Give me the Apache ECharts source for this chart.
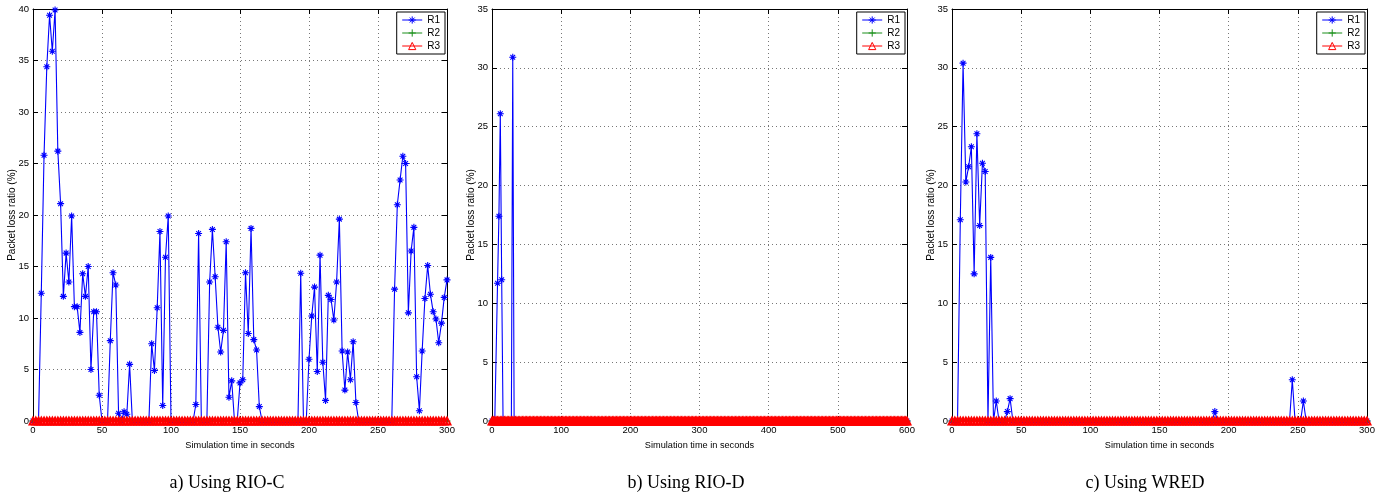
<!DOCTYPE html>
<html>
<head>
<meta charset="utf-8">
<script src="https://cdn.jsdelivr.net/npm/echarts@6/dist/echarts.min.js"></script>
<style>
html,body{margin:0;padding:0;background:#fff;}
#chart{width:1390px;height:493px;}
</style>
</head>
<body>
<div id="chart"></div>
<script>
// ---------- data (sampling every 2 s) ----------
const sampleStep = 2;
const xTicksA = [0, 50, 100, 150, 200, 250, 300];
const xTicksB = [0, 100, 200, 300, 400, 500, 600];
const xTicksC = [0, 50, 100, 150, 200, 250, 300];

// a) RIO-C, t = 0..300 (151 samples)
const r1A = [
  0,0,0,12.4,25.8,34.4,39.4,35.9,39.9,26.2,
  21.1,12.1,16.3,13.5,19.9,11.1,11.1,8.6,14.3,12.1,
  15.0,5.0,10.6,10.6,2.5,0,0,0,7.8,14.4,
  13.2,0.75,0,0.9,0.65,5.5,0,0,0,0,
  0,0,0,7.5,4.9,11.0,18.4,1.5,15.9,19.9,
  0,0,0,0,0,0,0,0,0,1.6,
  18.2,0,0,0,13.5,18.6,14.0,9.1,6.7,8.8,
  17.4,2.3,3.9,0,0,3.7,4.0,14.4,8.5,18.7,
  7.9,6.9,1.4,0,0,0,0,0,0,0,
  0,0,0,0,0,0,0,14.35,0,0,
  6.0,10.2,13.0,4.8,16.1,5.7,2.0,12.2,11.8,9.8,
  13.5,19.6,6.8,3.0,6.7,4.0,7.7,1.8,0,0,
  0,0,0,0,0,0,0,0,0,0,
  0,12.8,21.0,23.4,25.7,25.0,10.5,16.5,18.8,4.3,
  1.0,6.8,11.9,15.1,12.3,10.6,9.9,7.6,9.5,12.0,
  13.7
];
const r2A = [
  0,0,0,0,0,0,0,0,0,0, 0,0,0,0,0,0,0,0,0,0, 0,0,0,0,0,0,0,0,0,0,
  0,0,0,0,0,0,0,0,0,0, 0,0,0,0,0,0,0,0,0,0, 0,0,0,0,0,0,0,0,0,0,
  0,0,0,0,0,0,0,0,0,0, 0,0,0,0,0,0,0,0,0,0, 0,0,0,0,0,0,0,0,0,0,
  0,0,0,0,0,0,0,0,0,0, 0,0,0,0,0,0,0,0,0,0, 0,0,0,0,0,0,0,0,0,0,
  0,0,0,0,0,0,0,0,0,0, 0,0,0,0,0,0,0,0,0,0, 0,0,0,0,0,0,0,0,0,0,
  0
];
const r3A = [
  0,0,0,0,0,0,0,0,0,0, 0,0,0,0,0,0,0,0,0,0, 0,0,0,0,0,0,0,0,0,0,
  0,0,0,0,0,0,0,0,0,0, 0,0,0,0,0,0,0,0,0,0, 0,0,0,0,0,0,0,0,0,0,
  0,0,0,0,0,0,0,0,0,0, 0,0,0,0,0,0,0,0,0,0, 0,0,0,0,0,0,0,0,0,0,
  0,0,0,0,0,0,0,0,0,0, 0,0,0,0,0,0,0,0,0,0, 0,0,0,0,0,0,0,0,0,0,
  0,0,0,0,0,0,0,0,0,0, 0,0,0,0,0,0,0,0,0,0, 0,0,0,0,0,0,0,0,0,0,
  0
];

// b) RIO-D, t = 0..600 (301 samples)
const r1B = [
  0,0,0,0,11.7,17.4,26.1,12.0,0,0, 0,0,0,0,0,30.9,0,0,0,0, 0,0,0,0,0,0,0,0,0,0,
  0,0,0,0,0,0,0,0,0,0, 0,0,0,0,0,0,0,0,0,0, 0,0,0,0,0,0,0,0,0,0,
  0,0,0,0,0,0,0,0,0,0, 0,0,0,0,0,0,0,0,0,0, 0,0,0,0,0,0,0,0,0,0,
  0,0,0,0,0,0,0,0,0,0, 0,0,0,0,0,0,0,0,0,0, 0,0,0,0,0,0,0,0,0,0,
  0,0,0,0,0,0,0,0,0,0, 0,0,0,0,0,0,0,0,0,0, 0,0,0,0,0,0,0,0,0,0,
  0,0,0,0,0,0,0,0,0,0, 0,0,0,0,0,0,0,0,0,0, 0,0,0,0,0,0,0,0,0,0,
  0,0,0,0,0,0,0,0,0,0, 0,0,0,0,0,0,0,0,0,0, 0,0,0,0,0,0,0,0,0,0,
  0,0,0,0,0,0,0,0,0,0, 0,0,0,0,0,0,0,0,0,0, 0,0,0,0,0,0,0,0,0,0,
  0,0,0,0,0,0,0,0,0,0, 0,0,0,0,0,0,0,0,0,0, 0,0,0,0,0,0,0,0,0,0,
  0,0,0,0,0,0,0,0,0,0, 0,0,0,0,0,0,0,0,0,0, 0,0,0,0,0,0,0,0,0,0,
  0
];
const r2B = [
  0,0,0,0,0,0,0,0,0,0, 0,0,0,0,0,0,0,0,0,0, 0,0,0,0,0,0,0,0,0,0,
  0,0,0,0,0,0,0,0,0,0, 0,0,0,0,0,0,0,0,0,0, 0,0,0,0,0,0,0,0,0,0,
  0,0,0,0,0,0,0,0,0,0, 0,0,0,0,0,0,0,0,0,0, 0,0,0,0,0,0,0,0,0,0,
  0,0,0,0,0,0,0,0,0,0, 0,0,0,0,0,0,0,0,0,0, 0,0,0,0,0,0,0,0,0,0,
  0,0,0,0,0,0,0,0,0,0, 0,0,0,0,0,0,0,0,0,0, 0,0,0,0,0,0,0,0,0,0,
  0,0,0,0,0,0,0,0,0,0, 0,0,0,0,0,0,0,0,0,0, 0,0,0,0,0,0,0,0,0,0,
  0,0,0,0,0,0,0,0,0,0, 0,0,0,0,0,0,0,0,0,0, 0,0,0,0,0,0,0,0,0,0,
  0,0,0,0,0,0,0,0,0,0, 0,0,0,0,0,0,0,0,0,0, 0,0,0,0,0,0,0,0,0,0,
  0,0,0,0,0,0,0,0,0,0, 0,0,0,0,0,0,0,0,0,0, 0,0,0,0,0,0,0,0,0,0,
  0,0,0,0,0,0,0,0,0,0, 0,0,0,0,0,0,0,0,0,0, 0,0,0,0,0,0,0,0,0,0,
  0
];
const r3B = [
  0,0,0,0,0,0,0,0,0,0, 0,0,0,0,0,0,0,0,0,0, 0,0,0,0,0,0,0,0,0,0,
  0,0,0,0,0,0,0,0,0,0, 0,0,0,0,0,0,0,0,0,0, 0,0,0,0,0,0,0,0,0,0,
  0,0,0,0,0,0,0,0,0,0, 0,0,0,0,0,0,0,0,0,0, 0,0,0,0,0,0,0,0,0,0,
  0,0,0,0,0,0,0,0,0,0, 0,0,0,0,0,0,0,0,0,0, 0,0,0,0,0,0,0,0,0,0,
  0,0,0,0,0,0,0,0,0,0, 0,0,0,0,0,0,0,0,0,0, 0,0,0,0,0,0,0,0,0,0,
  0,0,0,0,0,0,0,0,0,0, 0,0,0,0,0,0,0,0,0,0, 0,0,0,0,0,0,0,0,0,0,
  0,0,0,0,0,0,0,0,0,0, 0,0,0,0,0,0,0,0,0,0, 0,0,0,0,0,0,0,0,0,0,
  0,0,0,0,0,0,0,0,0,0, 0,0,0,0,0,0,0,0,0,0, 0,0,0,0,0,0,0,0,0,0,
  0,0,0,0,0,0,0,0,0,0, 0,0,0,0,0,0,0,0,0,0, 0,0,0,0,0,0,0,0,0,0,
  0,0,0,0,0,0,0,0,0,0, 0,0,0,0,0,0,0,0,0,0, 0,0,0,0,0,0,0,0,0,0,
  0
];

// c) WRED, t = 0..300 (151 samples)
const r1C = [
  0,0,0,17.1,30.4,20.3,21.6,23.3,12.5,24.4,
  16.6,21.9,21.2,0,13.9,0,1.7,0,0,0,
  0.8,1.9,0,0,0,0,0,0,0,0,
  0,0,0,0,0,0,0,0,0,0, 0,0,0,0,0,0,0,0,0,0, 0,0,0,0,0,0,0,0,0,0,
  0,0,0,0,0,0,0,0,0,0, 0,0,0,0,0,0,0,0,0,0, 0,0,0,0,0,0,0,0,0,0,
  0,0,0,0,0,0.8,0,0,0,0,
  0,0,0,0,0,0,0,0,0,0, 0,0,0,0,0,0,0,0,0,0,
  0,0,0,3.5,0,0,0,1.7,0,0,
  0,0,0,0,0,0,0,0,0,0, 0,0,0,0,0,0,0,0,0,0,
  0
];
const r2C = [
  0,0,0,0,0,0,0,0,0,0, 0,0,0,0,0,0,0,0,0,0, 0,0,0,0,0,0,0,0,0,0,
  0,0,0,0,0,0,0,0,0,0, 0,0,0,0,0,0,0,0,0,0, 0,0,0,0,0,0,0,0,0,0,
  0,0,0,0,0,0,0,0,0,0, 0,0,0,0,0,0,0,0,0,0, 0,0,0,0,0,0,0,0,0,0,
  0,0,0,0,0,0,0,0,0,0, 0,0,0,0,0,0,0,0,0,0, 0,0,0,0,0,0,0,0,0,0,
  0,0,0,0,0,0,0,0,0,0, 0,0,0,0,0,0,0,0,0,0, 0,0,0,0,0,0,0,0,0,0,
  0
];
const r3C = [
  0,0,0,0,0,0,0,0,0,0, 0,0,0,0,0,0,0,0,0,0, 0,0,0,0,0,0,0,0,0,0,
  0,0,0,0,0,0,0,0,0,0, 0,0,0,0,0,0,0,0,0,0, 0,0,0,0,0,0,0,0,0,0,
  0,0,0,0,0,0,0,0,0,0, 0,0,0,0,0,0,0,0,0,0, 0,0,0,0,0,0,0,0,0,0,
  0,0,0,0,0,0,0,0,0,0, 0,0,0,0,0,0,0,0,0,0, 0,0,0,0,0,0,0,0,0,0,
  0,0,0,0,0,0,0,0,0,0, 0,0,0,0,0,0,0,0,0,0, 0,0,0,0,0,0,0,0,0,0,
  0
];

const seriesNames = ['R1', 'R2', 'R3'];
const captions = ['a) Using RIO-C', 'b) Using RIO-D', 'c) Using WRED'];
const xAxisTitle = 'Simulation time in seconds';
const yAxisTitle = 'Packet loss ratio (%)';

// ---------- chart ----------
const SANS = 'Liberation Sans, Arial, Helvetica, sans-serif';
const STAR = 'path://M0,5L10,5M5,0L5,10M1.6,1.6L8.4,8.4M8.4,1.6L1.6,8.4';
const PLUS = 'path://M5,0L5,10M0,5L10,5';

function toPairs(vals) {
  return vals.map((v, i) => [i * sampleStep, v]);
}

const panels = [
  { r: [r1A, r2A, r3A], xTicks: xTicksA, yMax: 40, grid: { left: 33, top: 9, width: 414, height: 412 }, legendRight: 945, capX: 227 },
  { r: [r1B, r2B, r3B], xTicks: xTicksB, yMax: 35, grid: { left: 492, top: 9, width: 415, height: 412 }, legendRight: 485, capX: 686 },
  { r: [r1C, r2C, r3C], xTicks: xTicksC, yMax: 35, grid: { left: 952, top: 9, width: 415, height: 412 }, legendRight: 25, capX: 1145 }
];

const styles = [
  { symbol: STAR, size: 7, color: '#0000ff', fill: '#0000ff', bw: 1.1 },
  { symbol: PLUS, size: 7, color: '#1a8f1a', fill: '#1a8f1a', bw: 1 },
  { symbol: 'triangle', size: 7, color: '#ff0000', fill: 'rgba(255,255,255,0)', bw: 1.9 }
];

const axisLine = { show: true, onZero: false, lineStyle: { color: '#000', width: 1 } };
const axisTick = { show: true, inside: true, length: 5, lineStyle: { color: '#000', width: 1 } };
const gridLine = { show: true, lineStyle: { color: '#777', width: 1, type: [1, 3] } };

const grid = [], xAxis = [], yAxis = [], series = [], legend = [], graphic = [];

panels.forEach((p, i) => {
  grid.push(Object.assign({ containLabel: false }, p.grid));
  const xMax = p.xTicks[p.xTicks.length - 1];
  const xInt = p.xTicks[1] - p.xTicks[0];
  xAxis.push({
    type: 'value', gridIndex: i, position: 'bottom', min: p.xTicks[0], max: xMax, interval: xInt,
    axisLine, axisTick,
    axisLabel: { color: '#000', fontSize: 9.5, fontFamily: SANS, margin: 4 },
    splitLine: gridLine,
    name: xAxisTitle, nameLocation: 'middle', nameGap: 20, nameMoveOverlap: false,
    nameTextStyle: { color: '#000', fontSize: 9.2, fontFamily: SANS }
  });
  xAxis.push({
    type: 'value', gridIndex: i, position: 'top', min: p.xTicks[0], max: xMax, interval: xInt,
    axisLine, axisTick, axisLabel: { show: false }, splitLine: { show: false }
  });
  yAxis.push({
    type: 'value', gridIndex: i, position: 'left', min: 0, max: p.yMax, interval: 5,
    axisLine, axisTick,
    axisLabel: { color: '#000', fontSize: 9.5, fontFamily: SANS, margin: 4 },
    splitLine: gridLine,
    name: yAxisTitle, nameLocation: 'middle', nameGap: 16, nameMoveOverlap: false,
    nameTextStyle: { color: '#000', fontSize: 10, fontFamily: SANS }
  });
  yAxis.push({
    type: 'value', gridIndex: i, position: 'right', min: 0, max: p.yMax, interval: 5,
    axisLine, axisTick, axisLabel: { show: false }, splitLine: { show: false }
  });
  p.r.forEach((vals, k) => {
    const s = styles[k];
    series.push({
      type: 'line', name: seriesNames[k],
      xAxisIndex: 2 * i, yAxisIndex: 2 * i,
      data: toPairs(vals),
      symbol: s.symbol, symbolSize: s.size, showSymbol: true,
      lineStyle: { color: s.color, width: 1.1 },
      itemStyle: { color: s.fill, borderColor: s.color, borderWidth: s.bw },
      emphasis: { disabled: true },
      z: 2 + k
    });
  });
  legend.push({
    data: seriesNames, orient: 'vertical', right: p.legendRight, top: 12,
    backgroundColor: '#fff', borderColor: '#000', borderWidth: 1,
    padding: [3, 5, 3, 5], itemGap: 3, itemWidth: 20, itemHeight: 9,
    selectedMode: false,
    lineStyle: { width: 1 },
    itemStyle: { borderWidth: 1 },
    textStyle: { color: '#000', fontSize: 10, fontFamily: SANS }
  });
  graphic.push({
    type: 'text', x: p.capX, y: 483,
    style: { text: captions[i], fill: '#000', font: '18px "Liberation Serif", "Times New Roman", serif', textAlign: 'center', textVerticalAlign: 'middle' }
  });
});

const chart = echarts.init(document.getElementById('chart'), null, { renderer: 'canvas' });
chart.setOption({
  animation: false,
  backgroundColor: '#fff',
  grid, xAxis, yAxis, series, legend, graphic
});
</script>
</body>
</html>
